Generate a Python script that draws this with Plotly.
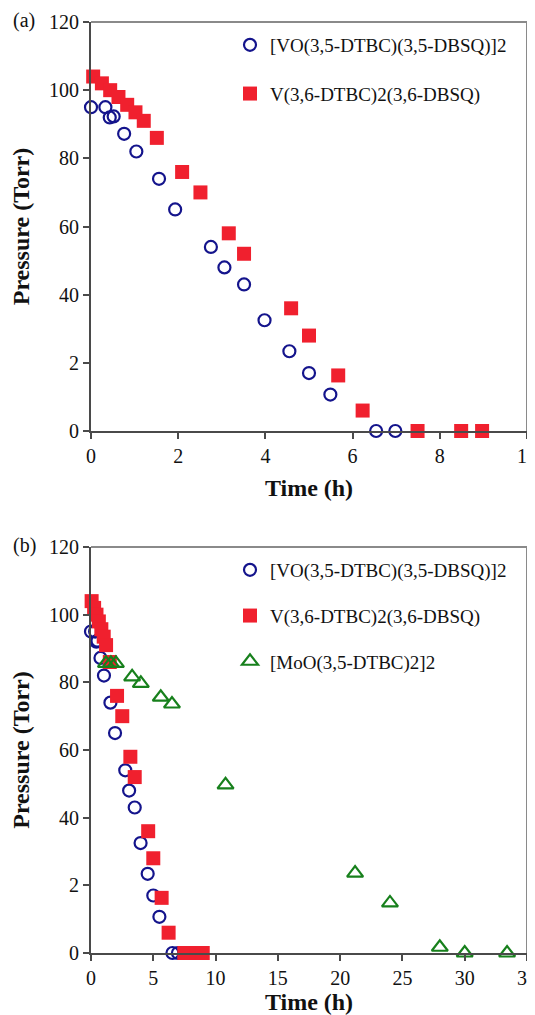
import plotly.graph_objects as go

# ---- data ----
vo_time = [0.0, 0.33, 0.43, 0.52, 0.76, 1.04, 1.56, 1.93, 2.75, 3.06, 3.51, 3.98, 4.55, 5.0, 5.49, 6.54, 6.98]
vo_pressure = [95, 95, 92, 92.3, 87.2, 82, 74, 65, 54, 48, 43, 32.5, 23.4, 17, 10.7, 0, 0]

v_time = [0.05, 0.25, 0.44, 0.63, 0.83, 1.02, 1.21, 1.51, 2.09, 2.51, 3.16, 3.51, 4.59, 5.0, 5.67, 6.23, 7.49, 8.49, 8.97]
v_pressure = [104, 102, 100, 98, 95.7, 93.5, 91, 86, 76, 70, 58, 52, 36, 28, 16.3, 6, 0, 0, 0]

mo_time = [1.2, 1.6, 2.0, 3.3, 4.0, 5.6, 6.5, 10.8, 21.2, 24.0, 28.0, 30.0, 33.4]
mo_pressure = [85.6, 85.6, 85.6, 81.6, 79.7, 75.6, 73.6, 49.7, 23.6, 14.8, 1.7, 0, 0]

name_vo = "[VO(3,5-DTBC)(3,5-DBSQ)]2"
name_v = "V(3,6-DTBC)2(3,6-DBSQ)"
name_mo = "[MoO(3,5-DTBC)2]2"

y_ticks = [0, 20, 40, 60, 80, 100, 120]
y_ticktext = ["0", "2", "40", "60", "80", "100", "120"]
xa_ticks = [0, 2, 4, 6, 8, 10]
xb_ticks = [0, 5, 10, 15, 20, 25, 30, 35]

BLUE = "#14148c"
RED = "#f0202e"
GREEN = "#17801c"
FONT = "Liberation Serif"

# page body has an 8px margin; the figure is offset by it in the window
OFF = 8
W, H = 535, 1015 - OFF
ml, mt = 91 - OFF, 22 - OFF
pw = 527 - 91
mr = W - ml - pw
mb = H - (953 - OFF)
ph = H - mt - mb

def py(screen_y):
    return 1 - (screen_y - OFF - mt) / ph

def pxx(screen_x):
    return (screen_x - OFF - ml) / pw

fig = go.Figure()

circ = dict(symbol="circle-open", size=12, color=BLUE, line=dict(width=2.2, color=BLUE))
sq = dict(symbol="square", size=14, color=RED)
tri = dict(symbol="triangle-up-open", size=14, color=GREEN, line=dict(width=2.2, color=GREEN))

fig.add_trace(go.Scatter(x=vo_time, y=vo_pressure, mode="markers", marker=circ, name=name_vo,
                         xaxis="x", yaxis="y", legend="legend", legendgroup="a1", cliponaxis=False))
fig.add_trace(go.Scatter(x=v_time, y=v_pressure, mode="markers", marker=sq, name=name_v,
                         xaxis="x", yaxis="y", legend="legend", legendgroup="a2", cliponaxis=False))

fig.add_trace(go.Scatter(x=vo_time, y=vo_pressure, mode="markers", marker=circ, name=name_vo,
                         xaxis="x2", yaxis="y2", legend="legend2", legendgroup="b1", cliponaxis=False))
fig.add_trace(go.Scatter(x=v_time, y=v_pressure, mode="markers", marker=sq, name=name_v,
                         xaxis="x2", yaxis="y2", legend="legend2", legendgroup="b2", cliponaxis=False))
fig.add_trace(go.Scatter(x=mo_time, y=mo_pressure, mode="markers", marker=tri, name=name_mo,
                         xaxis="x2", yaxis="y2", legend="legend2", legendgroup="b3", cliponaxis=False))

dom_a = [py(431), 1]
dom_b = [0, py(547)]

axis_common = dict(showline=True, linecolor="#4a4a4a", linewidth=2, ticks="outside",
                   ticklen=6, tickwidth=1.5, tickcolor="#4a4a4a", showgrid=False, zeroline=False,
                   automargin=False, ticklabeloverflow="allow",
                   tickfont=dict(family=FONT, size=20, color="#111"))
title_font = dict(family=FONT, size=24, color="#111")

fig.update_layout(
    width=W, height=H,
    margin=dict(l=ml, r=mr, t=mt, b=mb, autoexpand=False),
    paper_bgcolor="white", plot_bgcolor="white",
    showlegend=True,
    xaxis=dict(domain=[0, 1], range=[0, 10], tickvals=xa_ticks, anchor="y",
               title=dict(text="<b>Time (h)</b>", font=title_font, standoff=13), **axis_common),
    yaxis=dict(domain=dom_a, range=[0, 120], tickvals=y_ticks, ticktext=y_ticktext, anchor="x",
               title=dict(text="<b>Pressure (Torr)</b>", font=title_font, standoff=16), **axis_common),
    xaxis2=dict(domain=[0, 1], range=[0, 35], tickvals=xb_ticks, anchor="y2",
                title=dict(text="<b>Time (h)</b>", font=title_font, standoff=5), **axis_common),
    yaxis2=dict(domain=dom_b, range=[0, 120], tickvals=y_ticks, ticktext=y_ticktext, anchor="x2",
                title=dict(text="<b>Pressure (Torr)</b>", font=title_font, standoff=16), **axis_common),
    legend=dict(x=pxx(230), y=py(26), xanchor="left", yanchor="top", bgcolor="rgba(0,0,0,0)",
                font=dict(family=FONT, size=19, color="#111"), tracegroupgap=21, itemwidth=30),
    legend2=dict(x=pxx(230), y=py(551), xanchor="left", yanchor="top", bgcolor="rgba(0,0,0,0)",
                 font=dict(family=FONT, size=19, color="#111"), tracegroupgap=18, itemwidth=30),
)

# frame (top and right) in gray
for xr, yr in (("x domain", "y domain"), ("x2 domain", "y2 domain")):
    fig.add_shape(type="line", xref=xr, yref=yr, x0=0, x1=1, y0=1, y1=1,
                  line=dict(color="#8a8a8a", width=2))
    fig.add_shape(type="line", xref=xr, yref=yr, x0=1, x1=1, y0=0, y1=1,
                  line=dict(color="#8a8a8a", width=2))

fig.add_annotation(text="(a)", xref="paper", yref="paper", x=pxx(24), y=py(20),
                   xanchor="center", yanchor="middle", showarrow=False,
                   font=dict(family=FONT, size=20, color="#111"))
fig.add_annotation(text="(b)", xref="paper", yref="paper", x=pxx(24), y=py(545),
                   xanchor="center", yanchor="middle", showarrow=False,
                   font=dict(family=FONT, size=20, color="#111"))

fig.write_html("out.html")
